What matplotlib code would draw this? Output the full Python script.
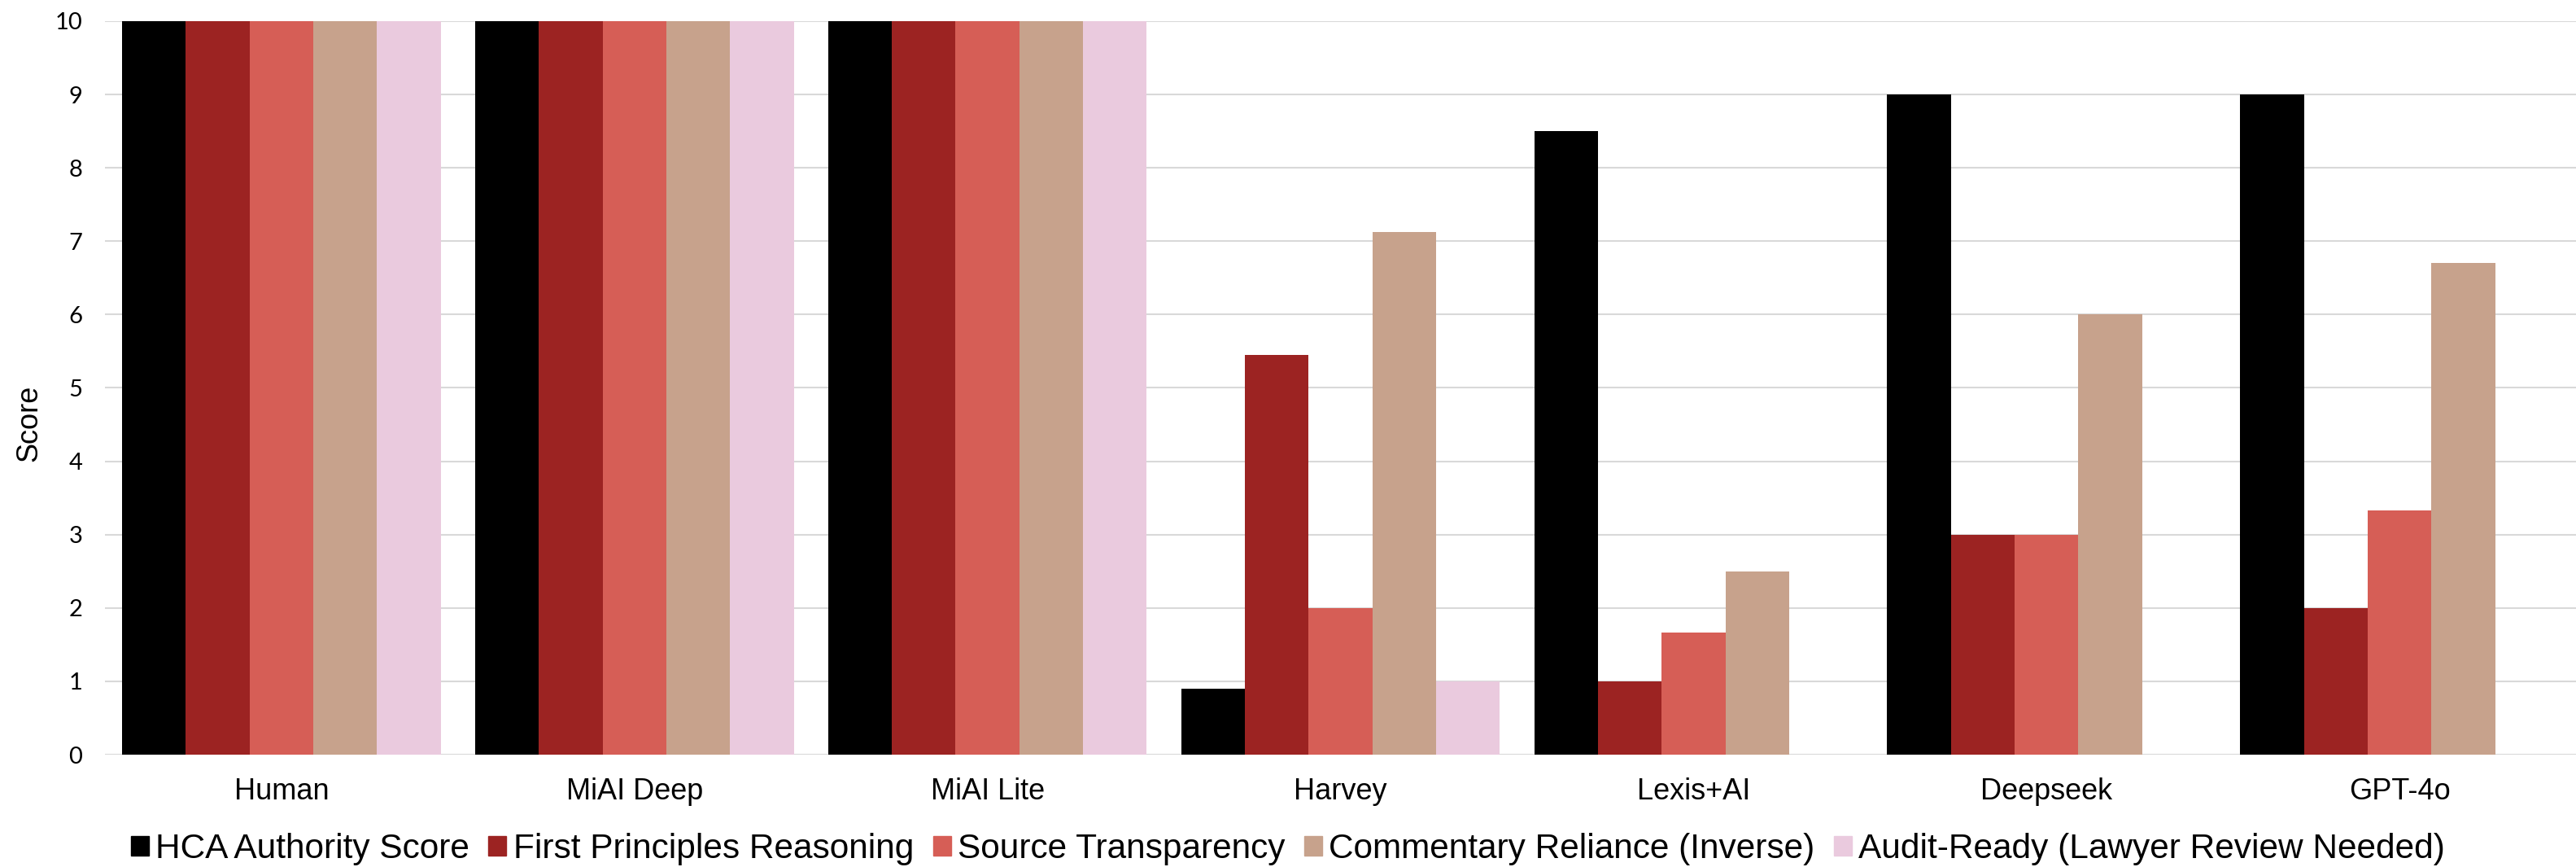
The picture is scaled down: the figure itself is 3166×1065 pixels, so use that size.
import numpy as np
import matplotlib
matplotlib.use("Agg")
import matplotlib.pyplot as plt
from matplotlib.patches import Rectangle

# data
models = ["Human", "MiAI Deep", "MiAI Lite", "Harvey", "Lexis+AI", "Deepseek", "GPT-4o"]
series_names = ["HCA Authority Score", "First Principles Reasoning", "Source Transparency",
                "Commentary Reliance (Inverse)", "Audit-Ready (Lawyer Review Needed)"]
hca_authority = [10, 10, 10, 0.9, 8.5, 9, 9]
first_principles = [10, 10, 10, 5.45, 1.0, 3.0, 2.0]
source_transparency = [10, 10, 10, 2.0, 1.67, 3.0, 3.33]
commentary_reliance = [10, 10, 10, 7.13, 2.5, 6.0, 6.7]
audit_ready = [10, 10, 10, 1.0, 0, 0, 0]
yticks = list(range(0, 11))

colors = ["#000000", "#9C2322", "#D65E56", "#C7A28C", "#EACADE"]
all_series = [hca_authority, first_principles, source_transparency,
              commentary_reliance, audit_ready]

W, H = 3166, 1065
fig = plt.figure(figsize=(W / 100, H / 100), dpi=100)
ax = fig.add_axes([129 / W, 138 / H, (W - 129) / W, 901 / H])

x = np.arange(len(models))
bw = 1 / (5 + 0.54)
for i, (vals, c) in enumerate(zip(all_series, colors)):
    ax.bar(x + (i - 2) * bw, vals, width=bw, color=c, edgecolor="none", zorder=3)

ax.set_xlim(-0.5, len(models) - 0.5)
ax.set_ylim(0, 10)
ax.set_yticks(yticks)
ax.set_yticklabels([str(t) for t in yticks], family="Lato", fontsize=21)
ax.set_xticks(x)
ax.set_xticklabels(models, family="Liberation Sans", fontsize=26)
ax.tick_params(axis="y", length=0, pad=20)
ax.tick_params(axis="x", length=0, pad=20)
for s in ax.spines.values():
    s.set_visible(False)
ax.grid(axis="y", color="#d9d9d9", linewidth=1.5, zorder=0)
ax.set_axisbelow(True)

fig.text(36 / W, 1 - 520 / H, "Score", rotation=90, ha="center", va="center",
         family="Liberation Sans", fontsize=26)

handles = [Rectangle((0, 0), 1, 1, color=c) for c in colors]
fig.legend(handles, series_names, loc="center", bbox_to_anchor=(0.5, 1 - 1043 / H),
           ncol=5, frameon=False, prop={"family": "Liberation Sans", "size": 30.5},
           handlelength=0.52, handleheight=0.52, handletextpad=0.2, columnspacing=0.55)

fig.savefig("out.png", dpi=100)
